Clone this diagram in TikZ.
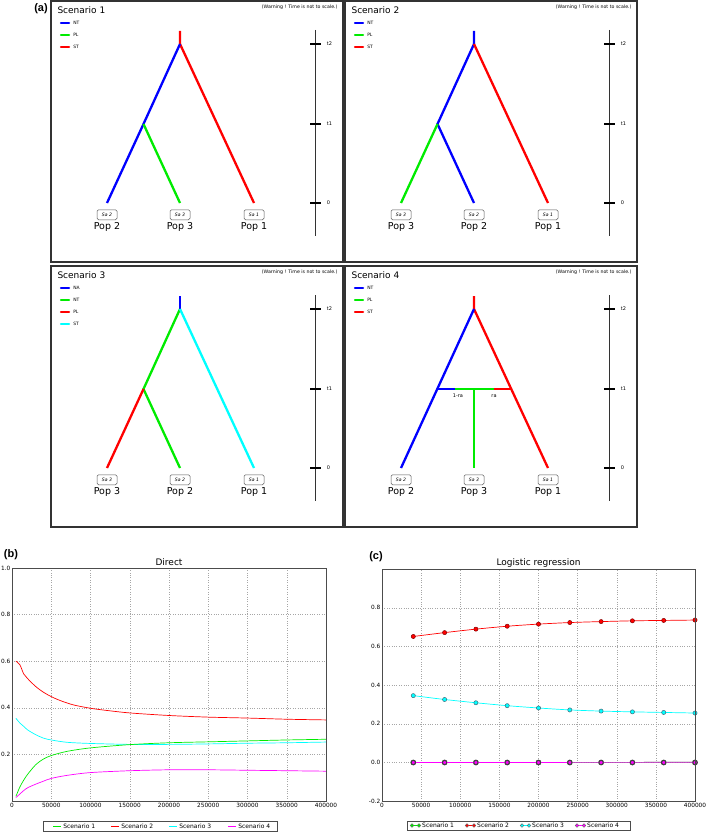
\documentclass[tikz,border=0pt]{standalone}
\usepackage{fontspec}
\setmainfont{DejaVu Sans}
\newfontfamily\letterfont{Liberation Sans}
\usetikzlibrary{positioning}

\definecolor{popblue}{RGB}{0,0,255}
\definecolor{popgreen}{RGB}{0,235,0}
\definecolor{popred}{RGB}{255,0,0}
\definecolor{popcyan}{RGB}{0,255,255}
\definecolor{popmagenta}{RGB}{255,0,255}

\tikzset{
  panelbox/.style={draw=black!80, line width=1.1pt},
  scentitle/.style={anchor=west, font=\fontsize{9}{10}\selectfont},
  warntext/.style={anchor=east, font=\fontsize{4.7}{5}\selectfont},
  timeaxis/.style={draw=black!80, line width=0.6pt},
  tickmark/.style={draw=black, line width=1.6pt},
  timelabel/.style={anchor=west, xshift=5pt, inner sep=0pt, font=\fontsize{5}{5}\selectfont},
  branch/.style={line width=2.3pt},
  legendkey/.style={line width=2.5pt, line cap=round},
  legendtext/.style={anchor=west, xshift=3pt, inner sep=0pt, font=\fontsize{4.5}{5}\selectfont},
  sabox/.style={draw=black!65, rounded corners=1.5pt, line width=0.5pt, minimum width=20pt,
    minimum height=10pt, inner sep=0pt, font=\itshape\fontsize{4.6}{5}\selectfont},
  poplabel/.style={inner sep=1pt, font=\fontsize{9.5}{11}\selectfont},
  mixlabel/.style={inner sep=0pt, font=\fontsize{5}{5}\selectfont},
  panelletter/.style={font=\letterfont\bfseries\fontsize{11}{13}\selectfont},
  gridline/.style={draw=gray!70, dotted, line width=0.4pt},
  plotframe/.style={draw=black!70, line width=0.9pt},
  curve/.style={line width=0.7pt},
  xtick/.style={anchor=north, inner sep=1.5pt, font=\fontsize{5.8}{6}\selectfont},
  ytick/.style={anchor=east, inner sep=1.5pt, font=\fontsize{5.8}{6}\selectfont},
  plottitle/.style={anchor=south, inner sep=2pt, font=\fontsize{9}{10}\selectfont},
  legendframe/.style={draw=black!70, line width=0.6pt, inner sep=0pt},
  legendentry/.style={anchor=west, xshift=2pt, inner sep=0pt, font=\fontsize{6}{6}\selectfont},
}

\begin{document}
\begin{tikzpicture}[x=1pt, y=-1pt]
  \useasboundingbox (0,0) rectangle (709,832);

  % Part (a): the four scenarios
  \node[panelletter] (lettera) at (41,9) {(a)};
  \foreach \ox/\oy/\n/\pa/\pb in {51/1/1/2/3, 345/1/2/3/2, 51/266/3/3/2, 345/266/4/2/3} {
    \begin{scope}[xshift=\ox pt, yshift=-\oy pt]
      \draw[panelbox] (0,0) rectangle (292,261);
      \node[scentitle] (title\n) at (3,9) {Scenario \n};
      \node[warntext] (warn\n) at (290,6) {(Warning ! Time is not to scale.)};

      % time axis
      \coordinate (axtop\n) at (264,29);
      \coordinate (axbot\n) at (264,235);
      \draw[timeaxis] (axtop\n) -- (axbot\n);
      \foreach \ty/\tl in {43/t2, 123/t1, 202/0} {
        \coordinate (tk\n\tl) at (264,\ty);
        \draw[tickmark] ([xshift=-5pt]tk\n\tl) -- ([xshift=6pt]tk\n\tl) node[timelabel] {\tl};
      }

      % tree points
      \coordinate (top\n) at (129,30);
      \coordinate (apex\n) at (129,43);
      \coordinate (join\n) at (92.5,123);
      \coordinate (joinR\n) at (166,123);
      \coordinate (drop\n) at (129,123);
      \coordinate (cutL\n) at (110,123);
      \coordinate (cutR\n) at (149,123);
      \coordinate (leafA\n) at (56,202);
      \coordinate (leafB\n) at (129,202);
      \coordinate (leafC\n) at (203,202);

      % samples and populations
      \node[sabox, below=6.5pt of leafA\n] (saA\n) {Sa \pa};
      \node[sabox, below=6.5pt of leafB\n] (saB\n) {Sa \pb};
      \node[sabox, below=6.5pt of leafC\n] (saC\n) {Sa 1};
      \node[poplabel, below=1pt of saA\n] (popA\n) {Pop \pa};
      \node[poplabel, below=1pt of saB\n] (popB\n) {Pop \pb};
      \node[poplabel, below=1pt of saC\n] (popC\n) {Pop 1};
    \end{scope}
  }

  % Legends
  \foreach \ox/\oy in {51/1, 345/1, 345/266} {
    \begin{scope}[xshift=\ox pt, yshift=-\oy pt]
      \draw[legendkey, popblue] (10,22) -- (18,22) node[legendtext, text=black] {NT};
      \draw[legendkey, popgreen] (10,34) -- (18,34) node[legendtext, text=black] {PL};
      \draw[legendkey, popred] (10,46) -- (18,46) node[legendtext, text=black] {ST};
    \end{scope}
  }
  \begin{scope}[xshift=51pt, yshift=-266pt]
    \draw[legendkey, popblue] (10,22) -- (18,22) node[legendtext, text=black] {NA};
    \draw[legendkey, popgreen] (10,34) -- (18,34) node[legendtext, text=black] {NT};
    \draw[legendkey, popred] (10,46) -- (18,46) node[legendtext, text=black] {PL};
    \draw[legendkey, popcyan] (10,58) -- (18,58) node[legendtext, text=black] {ST};
  \end{scope}

  % Scenario 1
  \draw[branch, popred] (top1) -- (apex1) -- (leafC1);
  \draw[branch, popblue] (apex1) -- (join1) -- (leafA1);
  \draw[branch, popgreen] (join1) -- (leafB1);

  % Scenario 2
  \draw[branch, popblue] (top2) -- (apex2) -- (join2) -- (leafB2);
  \draw[branch, popgreen] (join2) -- (leafA2);
  \draw[branch, popred] (apex2) -- (leafC2);

  % Scenario 3
  \draw[branch, popblue] (top3) -- (apex3);
  \draw[branch, popgreen] (apex3) -- (join3) -- (leafB3);
  \draw[branch, popred] (join3) -- (leafA3);
  \draw[branch, popcyan] (apex3) -- (leafC3);

  % Scenario 4 (admixture)
  \draw[branch, popred] (top4) -- (apex4) -- (leafC4);
  \draw[branch, popblue] (apex4) -- (leafA4);
  \draw[branch, popblue] (join4) -- (cutL4);
  \draw[branch, popgreen] (cutL4) -- (cutR4);
  \draw[branch, popred] (cutR4) -- (joinR4);
  \draw[branch, popgreen] (drop4) -- (leafB4);
  \node[mixlabel, below=5pt of cutL4, xshift=3pt] (mixL) {1-ra};
  \node[mixlabel, below=5pt of cutR4] (mixR) {ra};

  % Part (b): direct approach
  \node[panelletter] (letterb) at (11,555) {(b)};
  \begin{scope}[xshift=12pt, yshift=-801pt, x=7.85pt, y=233pt]
    \coordinate (bO) at (0,0);
    \coordinate (bTR) at (40,1);
    \foreach \gx in {5,10,...,35} \draw[gridline] (\gx,0) -- (\gx,1);
    \foreach \gy in {0.2,0.4,0.6,0.8} \draw[gridline] (0,\gy) -- (40,\gy);

    \draw[curve, popred] plot[smooth] coordinates {(0.5,0.60) (1,0.585) (1.5,0.545) (2,0.525)
      (3,0.492) (4,0.467) (5,0.448) (6,0.433) (7,0.421) (8,0.411) (10,0.398) (12,0.389)
      (15,0.378) (20,0.367) (25,0.360) (30,0.356) (35,0.351) (40,0.348)};
    \draw[curve, popcyan] plot[smooth] coordinates {(0.5,0.355) (1,0.335) (1.5,0.32) (2,0.305)
      (3,0.285) (4,0.270) (5,0.262) (7,0.252) (10,0.247) (15,0.243) (20,0.243) (25,0.245)
      (30,0.248) (35,0.250) (40,0.253)};
    \draw[curve, popgreen] plot[smooth] coordinates {(0.5,0.02) (1,0.06) (1.5,0.09) (2,0.115)
      (3,0.155) (4,0.180) (5,0.195) (7,0.213) (10,0.228) (15,0.242) (20,0.250) (25,0.254)
      (30,0.258) (35,0.262) (40,0.265)};
    \draw[curve, popmagenta] plot[smooth] coordinates {(0.5,0.015) (1,0.03) (1.5,0.045) (2,0.057)
      (3,0.072) (4,0.085) (5,0.097) (7,0.110) (10,0.122) (15,0.130) (20,0.134) (25,0.134)
      (30,0.132) (35,0.130) (40,0.128)};

    \draw[plotframe] (bO) rectangle (bTR);
    \foreach \gx/\xl in {0/0, 5/50000, 10/100000, 15/150000, 20/200000, 25/250000,
      30/300000, 35/350000, 40/400000} \node[xtick] at (\gx,0) {\xl};
    \foreach \gy in {0.2,0.4,0.6,0.8,1.0} \node[ytick] at (0,\gy) {\gy};
    \node[plottitle] (titleb) at (20,1) {Direct};
  \end{scope}
  \node[legendframe, minimum width=234pt, minimum height=10pt] (legb) at (160,826.5) {};
  \foreach \lx/\lc/\ln in {53/popgreen/1, 111/popred/2, 169/popcyan/3, 228/popmagenta/4}
    \draw[curve, \lc] (\lx,826.5) -- (\lx+8,826.5) node[legendentry, text=black] {Scenario \ln};

  % Part (c): logistic regression
  \node[panelletter] (letterc) at (376,557) {(c)};
  \begin{scope}[xshift=382pt, yshift=-762.5pt, x=7.825pt, y=193.3pt]
    \coordinate (cBL) at (0,-0.2);
    \coordinate (cTR) at (40,1);
    \foreach \gx in {5,10,...,35} \draw[gridline] (\gx,-0.2) -- (\gx,1);
    \foreach \gy in {0,0.2,0.4,0.6,0.8} \draw[gridline] (0,\gy) -- (40,\gy);

    \draw[curve, popred] plot[smooth] coordinates {(4,0.652) (8,0.672) (12,0.690) (16,0.705)
      (20,0.716) (24,0.724) (28,0.729) (32,0.733) (36,0.735) (40,0.737)};
    \foreach \px/\py in {4/0.652, 8/0.672, 12/0.690, 16/0.705, 20/0.716, 24/0.724,
      28/0.729, 32/0.733, 36/0.735, 40/0.737}
      \filldraw[fill=popred, draw=red!50!black, line width=0.5pt] (\px,\py) circle (2.1pt);
    \draw[curve, popcyan] plot[smooth] coordinates {(4,0.346) (8,0.326) (12,0.309) (16,0.294)
      (20,0.282) (24,0.272) (28,0.266) (32,0.262) (36,0.259) (40,0.256)};
    \foreach \px/\py in {4/0.346, 8/0.326, 12/0.309, 16/0.294, 20/0.282, 24/0.272,
      28/0.266, 32/0.262, 36/0.259, 40/0.256}
      \filldraw[fill=popcyan, draw=cyan!40!black, line width=0.5pt] (\px,\py) circle (2.1pt);
    \draw[curve, popgreen] (4,0) -- (40,0.001);
    \foreach \px in {4,8,...,40}
      \filldraw[fill=popgreen, draw=black!75, line width=0.9pt] (\px,0) circle (2.4pt);
    \draw[curve, popmagenta] (4,0) -- (40,0.001);
    \foreach \px in {4,8,...,40}
      \filldraw[fill=popmagenta, draw=black!75, line width=0.9pt] (\px,0) circle (2.1pt);

    \draw[plotframe] (cBL) rectangle (cTR);
    \foreach \gx/\xl in {0/0, 5/50000, 10/100000, 15/150000, 20/200000, 25/250000,
      30/300000, 35/350000, 40/400000} \node[xtick] at (\gx,-0.2) {\xl};
    \foreach \gy in {-0.2,0.0,0.2,0.4,0.6,0.8} \node[ytick] at (0,\gy) {\gy};
    \node[plottitle] (titlec) at (20,1) {Logistic regression};
  \end{scope}
  \node[legendframe, minimum width=223pt, minimum height=9pt] (legc) at (518.5,825.5) {};
  \foreach \lx/\lc/\ln in {412/popgreen/1, 467/popred/2, 522/popcyan/3, 577/popmagenta/4} {
    \draw[curve, \lc] (\lx,825.5) -- (\lx+7,825.5);
    \filldraw[fill=\lc, draw=black!60, line width=0.4pt] (\lx,825.5) circle (1.8pt);
    \filldraw[fill=\lc, draw=black!60, line width=0.4pt] (\lx+7,825.5) circle (1.8pt)
      node[legendentry, text=black, xshift=1pt] {Scenario \ln};
  }
\end{tikzpicture}
\end{document}
